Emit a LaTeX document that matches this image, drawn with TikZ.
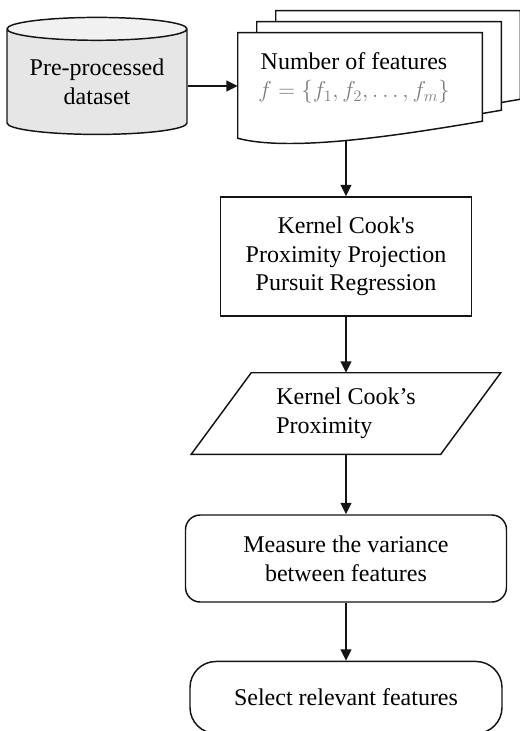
\documentclass[tikz,border=0pt]{standalone}
\usepackage{fontspec}
\setmainfont{Liberation Serif}
\usepackage{tikz}
\usetikzlibrary{shapes.geometric, arrows.meta, positioning, calc}
\definecolor{mydark}{RGB}{20,20,20}
\definecolor{dbbody}{RGB}{230,230,230}
\definecolor{dbtop}{RGB}{241,241,241}
\definecolor{mathgray}{RGB}{125,125,125}
\newcommand{\flowfont}{\fontsize{18}{21.5}\selectfont}
\tikzset{
  dbnode/.style={cylinder, shape border rotate=90, aspect=0.17, draw=mydark,
    line width=1.1pt, cylinder uses custom fill, cylinder body fill=dbbody,
    cylinder end fill=dbtop, align=center, font=\flowfont,
    minimum width=135pt, minimum height=87.75pt, inner sep=0pt},
  block/.style={rectangle, draw=mydark, fill=white, align=center,
    font=\flowfont, line width=1.1pt},
  page/.style={draw=mydark, fill=white, line width=1.1pt},
  arrow/.style={-{Triangle[length=8.5pt, width=8pt]}, line width=1.4pt, color=mydark}
}
% one page of the stack, shifted by (#1,#2) px
\newcommand{\featpage}[2]{%
  \draw[page] ($(doc.north west)+(#1,#2)$) -- ($(doc.north east)+(#1,#2)$)
    -- ($(doc.south east)+(#1,#2-19)$)
    .. controls ($(doc.south)+(#1+40,#2-5)$) and ($(doc.south)+(#1-70,#2+12)$)
    .. ($(doc.south west)+(#1,#2-2)$) -- cycle;}

\begin{document}
\begin{tikzpicture}[x=0.75pt, y=-0.75pt]
  \useasboundingbox (0,0) rectangle (520,731);

  \node (data) [dbnode] at (97,82) {Pre-processed\\dataset};
  \node (doc) [minimum width=183pt, minimum height=80.25pt, inner sep=0pt] at (360,86.5) {};
  \featpage{38}{-22}
  \featpage{19}{-11}
  \featpage{0}{0}
  \node (feat) [align=center, font=\flowfont] at (354,78)
    {Number of features\\{\color{mathgray}$f = \{f_1, f_2, \dots, f_m\}$}};

  \node (kcpp) [block, minimum width=188.25pt, minimum height=89.25pt] at (346,256.5)
    {Kernel Cook\textquotesingle s\\Proximity Projection\\Pursuit Regression};
  \node (kcp) [align=left, font=\flowfont, minimum width=186.75pt, minimum height=60.75pt,
    below=42pt of kcpp] {Kernel Cook's\\Proximity};
  \draw[page, fill=none] ([xshift=22.5pt]kcp.north west) -- ([xshift=22.5pt]kcp.north east)
    -- ([xshift=-22.5pt]kcp.south east) -- ([xshift=-22.5pt]kcp.south west) -- cycle;
  \node (measure) [block, rounded corners=11pt, minimum width=240.75pt, minimum height=65.25pt,
    below=45pt of kcp] {Measure the variance\\between features};
  \node (select) [block, rounded corners=19.5pt, minimum width=234pt, minimum height=54pt,
    below=43.5pt of measure] {Select relevant features};

  \draw [arrow] ([yshift=-3pt]data.east) -- ([yshift=-3pt]data.east -| doc.west);
  \draw [arrow] (doc.south -| kcpp.north) -- (kcpp.north);
  \draw [arrow] (kcpp) -- (kcp);
  \draw [arrow] (kcp) -- (measure);
  \draw [arrow] (measure) -- (select);
\end{tikzpicture}
\end{document}
